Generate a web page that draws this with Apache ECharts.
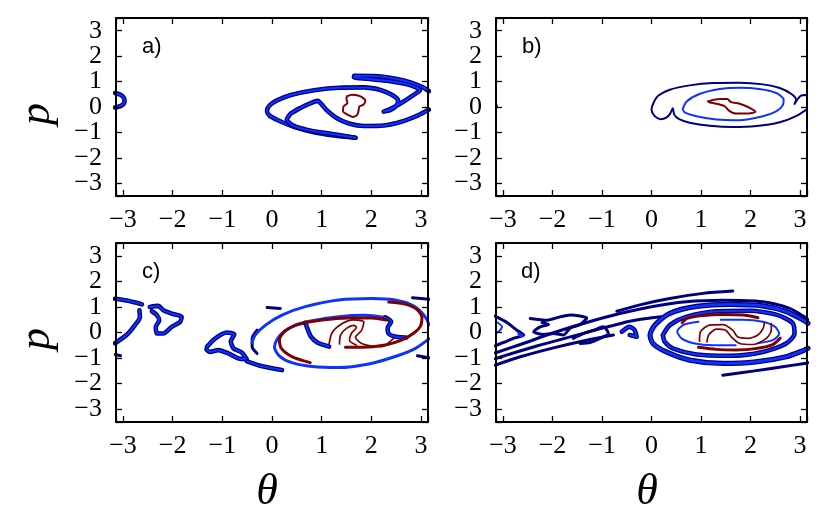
<!DOCTYPE html>
<html><head><meta charset="utf-8">
<script src="https://cdn.jsdelivr.net/npm/echarts@6/dist/echarts.min.js"></script>
<style>html,body{margin:0;padding:0;background:#fff}#c{width:830px;height:523px}</style>
</head><body><div id="c"></div>
<script>
// ---- tick values / labels ----
const xTicks = [-3,-2,-1,0,1,2,3];
const xTickLabels = ['\u22123','\u22122','\u22121','0','1','2','3'];
const yTicks = [-3,-2,-1,0,1,2,3];
const yTickLabels = ['\u22123','\u22122','\u22121','0','1','2','3'];
const panelLabels = ['a)','b)','c)','d)'];
const xName = '\u03b8';
const yName = 'p';

// ---- panel a contours [theta, p] ----
const aBand1 = [[1.68,-1.21],[1.25,-1.12],[0.84,-0.99],[0.44,-0.78],[0.12,-0.52],[-0.05,-0.34],[-0.10,-0.17],[-0.06,0.04],[0.10,0.26],[0.40,0.48],[0.85,0.66],[1.35,0.76],[1.85,0.77],[2.20,0.66],[2.43,0.46],[2.54,0.25],[2.50,0.04],[2.38,-0.12],[2.25,-0.18],[2.40,-0.06],[2.62,0.18],[2.84,0.46],[2.98,0.66],[2.78,0.86],[2.32,1.03],[1.92,1.11],[1.65,1.17],[1.66,1.23],[2.05,1.22],[2.46,1.12],[2.79,0.97],[3.03,0.78],[3.16,0.62]];
const aBand2 = [[1.68,-1.21],[1.18,-1.05],[0.71,-0.90],[0.42,-0.72],[0.30,-0.50],[0.38,-0.26],[0.58,-0.03],[0.78,0.15],[0.92,0.24],[1.00,0.10],[1.12,-0.16],[1.30,-0.43],[1.55,-0.65],[1.85,-0.75],[2.25,-0.73],[2.62,-0.57],[2.95,-0.32],[3.16,-0.10]];
const aEdge = [[-3.16,0.55],[-3.05,0.48],[-2.98,0.35],[-2.97,0.22],[-3.00,0.10],[-3.08,0.02],[-3.16,-0.02]];
const aRed = [[1.51,0.42],[1.61,0.48],[1.71,0.46],[1.81,0.39],[1.88,0.25],[1.84,0.09],[1.76,0.02],[1.74,-0.17],[1.71,-0.32],[1.63,-0.39],[1.52,-0.30],[1.43,-0.17],[1.44,0.02],[1.52,0.16],[1.50,0.31],[1.51,0.42]];

// ---- panel b contours ----
const bNavy = [[3.16,-0.06],[2.92,-0.36],[2.59,-0.60],[2.12,-0.75],[1.65,-0.79],[1.18,-0.74],[0.77,-0.62],[0.55,-0.47],[0.46,-0.30],[0.43,-0.05],[0.38,-0.25],[0.30,-0.42],[0.18,-0.48],[0.06,-0.35],[0.00,-0.10],[0.04,0.16],[0.14,0.45],[0.37,0.68],[0.77,0.85],[1.24,0.94],[1.78,0.95],[2.25,0.89],[2.59,0.75],[2.82,0.52],[2.92,0.29],[2.89,0.12],[2.95,0.30],[3.02,0.45],[3.10,0.47],[3.16,0.40]];
const bEdge = [[-3.16,0.12],[-3.12,0.05],[-3.16,-0.02]];
const bBlue = [[0.63,-0.08],[0.71,0.22],[0.98,0.52],[1.38,0.71],[1.78,0.76],[2.18,0.71],[2.52,0.55],[2.67,0.29],[2.65,0.06],[2.52,-0.17],[2.25,-0.36],[1.78,-0.52],[1.31,-0.49],[0.91,-0.36],[0.67,-0.21],[0.63,-0.08]];
const bRed = [[1.14,0.22],[1.38,0.31],[1.53,0.31],[1.61,0.19],[1.78,0.13],[1.95,0.00],[2.10,-0.19],[1.92,-0.26],[1.71,-0.26],[1.57,-0.15],[1.48,0.03],[1.34,0.12],[1.18,0.18],[1.14,0.22]];

// ---- panel c contours ----
const cOuterTop = [[-0.40,-0.38],[-0.34,-0.10],[-0.13,0.29],[0.20,0.68],[0.67,1.01],[1.34,1.27],[2.01,1.33],[2.48,1.27],[2.82,1.07],[3.02,0.77],[3.12,0.50],[3.16,0.30]];
const cOuterLoop = [[3.16,-0.25],[2.89,-0.62],[2.48,-0.94],[1.95,-1.23],[1.34,-1.37],[0.81,-1.33],[0.40,-1.18],[0.15,-0.92],[0.05,-0.58],[0.10,-0.27],[0.24,0.03],[0.47,0.29],[0.81,0.46],[1.34,0.62],[1.88,0.67],[2.28,0.59]];
const cHookR = [[2.28,0.59],[2.40,0.42],[2.33,0.18],[2.35,-0.05],[2.50,-0.17],[2.70,-0.20]];
const cHookL = [[0.67,0.38],[0.72,0.12],[0.78,-0.15],[0.92,-0.40],[1.15,-0.55]];
const cRed1 = [[2.35,1.19],[2.68,1.11],[2.92,0.90],[3.02,0.59],[2.99,0.25],[2.85,-0.03],[2.62,-0.29],[2.28,-0.49],[1.81,-0.58],[1.48,-0.58]];
const cRed2 = [[0.77,-1.18],[0.40,-0.94],[0.19,-0.62],[0.15,-0.27],[0.27,0.07],[0.54,0.32],[1.01,0.49],[1.54,0.57],[2.01,0.57],[2.31,0.49]];
const cSOuter = [[1.15,-0.45],[1.21,-0.01],[1.40,0.33],[1.64,0.49],[1.85,0.41],[1.80,0.07],[1.68,-0.19],[1.83,-0.45],[2.21,-0.55],[2.45,-0.23]];
const cSInner = [[1.36,-0.45],[1.38,-0.10],[1.50,0.16],[1.65,0.28],[1.70,0.20],[1.60,-0.03],[1.56,-0.30],[1.70,-0.50]];
const cLeftTop = [[-3.16,1.32],[-2.93,1.25],[-2.73,1.16],[-2.62,1.10]];
const cLeftArc = [[-3.16,-0.42],[-2.93,-0.10],[-2.76,0.29],[-2.66,0.61],[-2.67,0.87]];
const cClaw1 = [[-2.46,1.00],[-2.29,1.04],[-2.19,0.87],[-2.02,0.74],[-1.82,0.61],[-1.85,0.42],[-2.02,0.22],[-2.19,-0.04],[-2.32,-0.04],[-2.34,0.22],[-2.27,0.48],[-2.32,0.68],[-2.42,0.83]];
const cClaw2 = [[-1.31,-0.56],[-1.14,-0.23],[-0.91,0.00],[-0.76,-0.08],[-0.83,-0.34],[-0.77,-0.63],[-0.61,-0.78],[-0.51,-1.04],[-0.67,-1.02],[-0.88,-0.82],[-1.08,-0.69],[-1.25,-0.76],[-1.32,-0.66]];
const cNavyArc = [[-0.30,0.09],[-0.40,-0.23],[-0.40,-0.56],[-0.30,-0.82]];
const cNavyDash = [[-0.10,0.98],[0.17,0.94]];
const cTail = [[-0.51,-1.12],[-0.24,-1.30],[0.20,-1.47]];
const cRightNavy1 = [[2.83,1.36],[3.16,1.30]];
const cRightNavy2 = [[2.93,-0.91],[3.16,-0.99]];
const cLeftNavy = [[-3.16,-0.86],[-3.05,-0.91]];

// ---- panel d contours ----
const dL1 = [[-0.70,0.83],[-0.17,1.11],[0.37,1.33],[1.04,1.53],[1.64,1.62]];
const dL2 = [[-3.16,-0.80],[-2.65,-0.47],[-1.98,-0.01],[-1.31,0.39],[-0.64,0.74],[-0.03,1.00],[0.70,1.20],[1.44,1.26],[2.25,1.20],[2.79,0.94],[3.09,0.61],[3.16,0.50]];
const dL3 = [[-3.16,-1.02],[-2.32,-0.53],[-1.64,-0.17],[-0.97,0.18],[-0.44,0.44],[-0.10,0.55],[0.20,0.62]];
const dL4 = [[-3.16,-1.28],[-2.65,-0.95],[-1.98,-0.60],[-1.31,-0.30],[-0.77,-0.10]];
const dLoop1 = [[3.16,-0.62],[3.09,-0.69],[2.72,-0.95],[2.11,-1.15],[1.44,-1.21],[0.77,-1.08],[0.30,-0.76],[0.03,-0.43],[-0.03,-0.10],[0.07,0.29],[0.37,0.75],[0.91,1.02],[1.58,1.10],[2.25,1.04],[2.72,0.82],[3.09,0.46],[3.16,0.36]];
const dLoop2 = [[0.23,-0.10],[0.37,0.29],[0.70,0.61],[1.31,0.83],[1.98,0.85],[2.52,0.70],[2.85,0.37],[2.89,-0.04],[2.72,-0.43],[2.25,-0.76],[1.58,-0.91],[0.91,-0.86],[0.44,-0.63],[0.27,-0.37],[0.23,-0.10]];
const dArcL = [[0.95,0.42],[0.65,0.30],[0.52,0.05],[0.60,-0.22],[0.85,-0.42],[1.25,-0.50],[1.70,-0.50]];
const dArcR = [[2.15,-0.42],[2.45,-0.30],[2.58,-0.05],[2.50,0.22],[2.25,0.42],[1.85,0.50],[1.40,0.50]];
const dRedTop = [[0.62,0.38],[0.72,0.55],[1.04,0.66],[1.44,0.70],[1.85,0.68],[2.15,0.58]];
const dRedBottom = [[0.95,-0.58],[1.31,-0.66],[1.71,-0.68],[2.10,-0.63],[2.45,-0.47],[2.60,-0.22]];
const dS1 = [[0.97,-0.34],[0.99,0.03],[1.17,0.29],[1.44,0.31],[1.64,0.09],[1.74,-0.17],[1.95,-0.23],[2.15,-0.10],[2.26,0.18],[2.28,0.39]];
const dS2 = [[1.12,-0.37],[1.16,-0.08],[1.31,0.13],[1.50,0.09],[1.61,-0.17],[1.78,-0.43],[2.05,-0.47],[2.32,-0.23],[2.42,0.09],[2.42,0.35]];
const dBottom = [[1.44,-1.67],[2.05,-1.51],[2.65,-1.34],[3.09,-1.21],[3.16,-1.18]];
const dW1 = [[-3.16,0.64],[-2.92,0.39],[-2.72,0.09],[-2.58,-0.10],[-2.79,-0.23],[-2.99,-0.39],[-3.16,-0.52]];
const dW2 = [[-3.16,0.45],[-3.02,0.22],[-3.09,0.03],[-3.16,-0.02]];
const dW2b = [[-2.68,-0.06],[-2.62,-0.14]];
const dW3 = [[-2.45,0.55],[-2.11,0.48],[-1.85,0.61],[-1.64,0.68],[-1.31,0.57],[-1.44,0.31],[-1.64,0.18],[-1.78,-0.10],[-1.98,-0.04],[-2.18,-0.08],[-2.38,0.03],[-2.25,0.22],[-2.08,0.31],[-2.21,0.39]];
const dW4 = [[-1.58,-0.23],[-1.38,-0.04],[-1.17,0.09],[-0.97,0.22],[-0.87,-0.04],[-1.04,-0.23],[-1.24,-0.39],[-1.44,-0.43]];
const dW5 = [[-0.60,0.03],[-0.44,0.22],[-0.34,0.09],[-0.30,-0.17],[-0.44,-0.10]];

// ---- styling ----
const NAVY = '#00007f', BLUE = '#0d33ff', RED = '#7f0000';
const KIND = {
  pair: [[NAVY,4.6],[BLUE,2]],
  pairThick: [[NAVY,5.2],[BLUE,2.6]],
  navy: [[NAVY,2]],
  navyThick: [[NAVY,3]],
  blue: [[BLUE,2]],
  blueThick: [[BLUE,3]],
  red: [[RED,2]],
  redThin: [[RED,1.7]],
  redThick: [[RED,3]]
};
const layers = [
  [0,aBand1,'pair'],[0,aBand2,'pair'],[0,aEdge,'pair'],[0,aRed,'red'],
  [1,bNavy,'navy'],[1,bEdge,'navy'],[1,bBlue,'blue'],[1,bRed,'red'],
  [2,cLeftTop,'pair'],[2,cLeftArc,'pair'],[2,cClaw1,'pair'],[2,cClaw2,'pair'],[2,cNavyArc,'navyThick'],[2,cNavyDash,'navyThick'],[2,cTail,'pair'],[2,cRightNavy1,'navyThick'],[2,cRightNavy2,'navyThick'],[2,cLeftNavy,'navyThick'],
  [2,cOuterTop,'blueThick'],[2,cOuterLoop,'blueThick'],[2,cHookR,'pair'],[2,cHookL,'pair'],[2,cRed1,'redThick'],[2,cRed2,'redThick'],[2,cSOuter,'redThin'],[2,cSInner,'redThin'],
  [3,dL1,'navyThick'],[3,dL2,'navyThick'],[3,dL3,'navyThick'],[3,dL4,'navyThick'],[3,dBottom,'navyThick'],
  [3,dW1,'navyThick'],[3,dW2,'blue'],[3,dW2b,'blueThick'],[3,dW3,'navyThick'],[3,dW4,'navyThick'],[3,dW5,'pair'],
  [3,dLoop1,'pairThick'],[3,dLoop2,'pair'],[3,dArcL,'blue'],[3,dArcR,'blue'],
  [3,dRedTop,'redThick'],[3,dRedBottom,'redThick'],[3,dS1,'redThin'],[3,dS2,'redThin']
];
const series = [];
layers.forEach(([g,data,kind]) => {
  KIND[kind].forEach(([color,width]) => {
    series.push({type:'line', xAxisIndex:g, yAxisIndex:g, data:data, showSymbol:false, symbol:'none',
      smooth:0.25, silent:true, animation:false, z:1,
      lineStyle:{color:color, width:width, cap:'round', join:'round'}});
  });
});

const grids = [
  {left:116, top:18, width:312, height:178},
  {left:496, top:18, width:311, height:178},
  {left:116, top:243, width:312, height:179},
  {left:496, top:243, width:311, height:179}
];

function tickText(v, ticks, labels){
  const i = ticks.findIndex(t => Math.abs(t - v) < 1e-6);
  return i < 0 ? '' : labels[i];
}
const labelFont = {color:'#000', fontFamily:'Liberation Serif', fontSize:26, lineHeight:14};
const frame = {show:true, onZero:false, lineStyle:{color:'#000', width:2}};
const tick = {show:true, inside:true, length:6, lineStyle:{color:'#000', width:1.3}};
function xAx(g, top){
  return {type:'value', gridIndex:g, min:-Math.PI, max:Math.PI, splitNumber:6, position: top?'top':'bottom', z:10,
    axisLine:frame, splitLine:{show:false}, axisTick:tick,
    axisLabel:Object.assign({show:!top, margin:17, hideOverlap:false,
      formatter:v => tickText(v, xTicks, xTickLabels)}, labelFont)};
}
function yAx(g, right){
  return {type:'value', gridIndex:g, min:-3.5, max:3.5, splitNumber:7, position: right?'right':'left', z:10,
    axisLine:frame, splitLine:{show:false}, axisTick:tick,
    axisLabel:Object.assign({show:!right, margin:14, hideOverlap:false,
      formatter:v => tickText(v, yTicks, yTickLabels)}, labelFont)};
}
const xAxis = [0,1,2,3].map(g => xAx(g,false)).concat([0,1,2,3].map(g => xAx(g,true)));
const yAxis = [0,1,2,3].map(g => yAx(g,false)).concat([0,1,2,3].map(g => yAx(g,true)));

const graphic = [];
const labelPos = [[142,36],[522,36],[142,261],[521,261]];
panelLabels.forEach((t,i) => graphic.push({type:'text', x:labelPos[i][0], y:labelPos[i][1], silent:true,
  style:{text:t, fill:'#000', font:'22px "Liberation Sans", Arial, sans-serif', textVerticalAlign:'top'}}));
[[37,114],[37,339]].forEach(([x,y]) => graphic.push({type:'text', x:x, y:y, rotation:Math.PI/2, silent:true,
  style:{text:yName, fill:'#000', font:'italic 44px "Liberation Serif", serif', textAlign:'center', textVerticalAlign:'middle'}}));
[[267,492],[647,492]].forEach(([x,y]) => graphic.push({type:'text', x:x, y:y, silent:true,
  style:{text:xName, fill:'#000', font:'italic 44px "Liberation Serif", serif', textAlign:'center', textVerticalAlign:'middle'}}));

const chart = echarts.init(document.getElementById('c'), null, {renderer:'canvas'});
chart.setOption({animation:false, grid:grids, xAxis:xAxis, yAxis:yAxis, series:series, graphic:graphic});
</script></body></html>
